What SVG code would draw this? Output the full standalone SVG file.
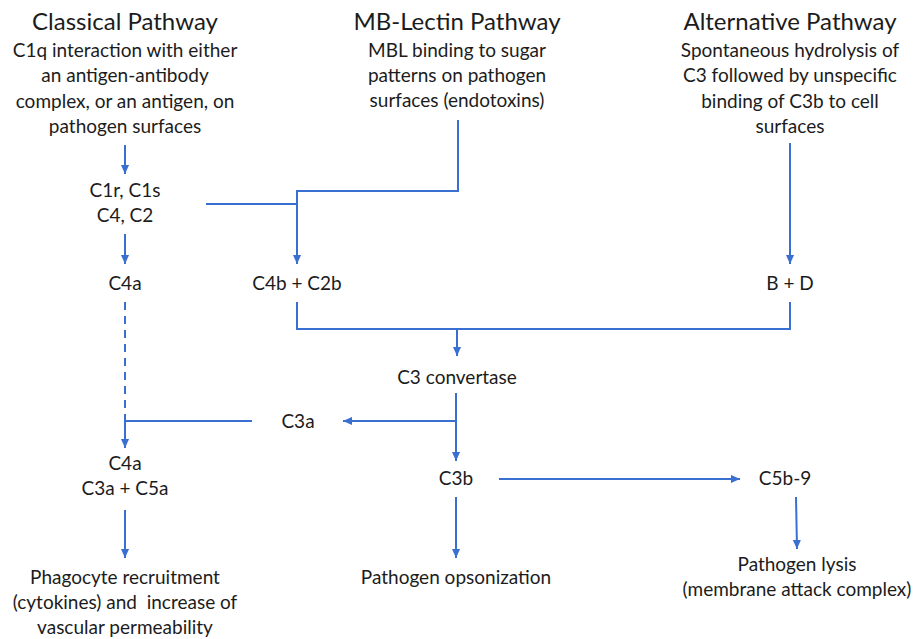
<svg xmlns="http://www.w3.org/2000/svg" width="917" height="639" viewBox="0 0 917 639">
<style>
text{font-family:Lato,"Open Sans","Liberation Sans",sans-serif;fill:#1c1c1c;text-anchor:middle;white-space:pre}
.t{font-size:24px}
.b{font-size:19px}
.l{fill:none;stroke:#3a6fd2;stroke-width:2}
.d{stroke-dasharray:8,6}
</style>
<defs>
<marker id="a" viewBox="0 0 10 10" refX="10" refY="5" markerWidth="9" markerHeight="9" markerUnits="userSpaceOnUse" orient="auto"><path d="M0,0.5L10,5L0,9.5z" fill="#3a6fd2"/></marker>
</defs>
<g id="classical"><text class="t" x="125" y="30">Classical Pathway</text>
<text class="b" x="125" y="57">C1q interaction with either</text>
<text class="b" x="125" y="82">an antigen-antibody</text>
<text class="b" x="125" y="108">complex, or an antigen, on</text>
<text class="b" x="125" y="133">pathogen surfaces</text></g>
<g id="lectin"><text class="t" x="457" y="30">MB-Lectin Pathway</text>
<text class="b" x="457" y="57">MBL binding to sugar</text>
<text class="b" x="457" y="82">patterns on pathogen</text>
<text class="b" x="457" y="107">surfaces (endotoxins)</text></g>
<g id="alternative"><text class="t" x="790" y="30">Alternative Pathway</text>
<text class="b" x="790" y="57">Spontaneous hydrolysis of</text>
<text class="b" x="790" y="82">C3 followed by unspecific</text>
<text class="b" x="790" y="108">binding of C3b to cell</text>
<text class="b" x="790" y="133">surfaces</text></g>
<g id="c1"><text class="b" x="125" y="197">C1r, C1s</text><text class="b" x="125" y="222">C4, C2</text></g>
<g id="c4a"><text class="b" x="125" y="290">C4a</text></g>
<g id="c4b"><text class="b" x="297" y="290">C4b + C2b</text></g>
<g id="bd"><text class="b" x="790" y="290">B + D</text></g>
<g id="c3conv"><text class="b" x="457" y="384">C3 convertase</text></g>
<g id="c3a"><text class="b" x="298" y="428">C3a</text></g>
<g id="c4a2"><text class="b" x="125" y="470">C4a</text><text class="b" x="125" y="495">C3a + C5a</text></g>
<g id="c3b"><text class="b" x="456" y="485">C3b</text></g>
<g id="c5b"><text class="b" x="785" y="485">C5b-9</text></g>
<g id="phago"><text class="b" x="125" y="584">Phagocyte recruitment</text>
<text class="b" x="125" y="609" xml:space="preserve">(cytokines) and  increase of</text>
<text class="b" x="125" y="634">vascular permeability</text></g>
<g id="opso"><text class="b" x="456" y="584">Pathogen opsonization</text></g>
<g id="lysis"><text class="b" x="797" y="571">Pathogen lysis</text>
<text class="b" x="797" y="596">(membrane attack complex)</text></g>
<g id="connectors">
<path class="l" d="M125,145V174" marker-end="url(#a)"/>
<path class="l" d="M125,234V264" marker-end="url(#a)"/>
<path class="l d" d="M125,302V421"/>
<path class="l" d="M252,421H125V448" marker-end="url(#a)"/>
<path class="l" d="M125,510V558" marker-end="url(#a)"/>
<path class="l" d="M458,120V191H297V264" marker-end="url(#a)"/>
<path class="l" d="M206,204H297"/>
<path class="l" d="M790,143V264" marker-end="url(#a)"/>
<path class="l" d="M297,302V329H790V302"/>
<path class="l" d="M457,329V356" marker-end="url(#a)"/>
<path class="l" d="M456,393V461" marker-end="url(#a)"/>
<path class="l" d="M456,421H343" marker-end="url(#a)"/>
<path class="l" d="M499,479H740" marker-end="url(#a)"/>
<path class="l" d="M456,497V558" marker-end="url(#a)"/>
<path class="l" d="M796,497L797,549" marker-end="url(#a)"/>
</g>
</svg>
